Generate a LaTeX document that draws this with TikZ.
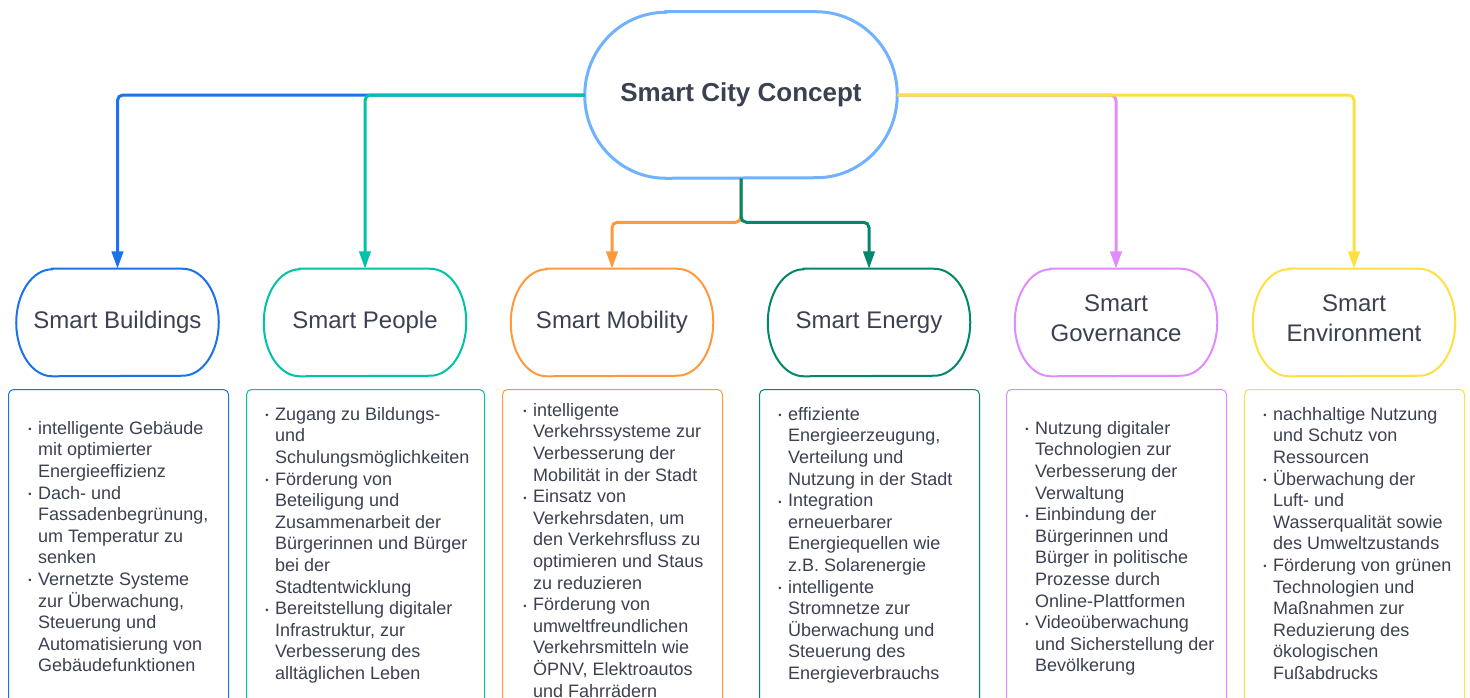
\documentclass[tikz,border=0pt]{standalone}
\usepackage{fontspec}
\setmainfont{Liberation Sans}
\usetikzlibrary{arrows.meta, positioning, calc}
\definecolor{hubline}{HTML}{70B2FF}
\definecolor{buildings}{HTML}{1A73E8}
\definecolor{people}{HTML}{00C2A8}
\definecolor{mobility}{HTML}{FF9A3C}
\definecolor{energy}{HTML}{00876C}
\definecolor{governance}{HTML}{E08CFF}
\definecolor{environment}{HTML}{FFE040}
\definecolor{dark}{HTML}{3B4150}
\newcommand{\bul}{\raisebox{1.3pt}{\fontsize{7}{7}\selectfont\textbullet}}
\tikzset{
    % Central concept node
    hub/.style={
        minimum width=234pt,
        minimum height=124.5pt,
        align=center,
        font=\fontsize{19.5}{23}\selectfont\bfseries,
        text=dark
    },
    % Branch node (outline drawn afterwards)
    branch/.style={
        minimum width=151.5pt,
        minimum height=80.25pt,
        align=center,
        font=\fontsize{18}{22.5}\selectfont,
        text=dark
    },
    % Detail box
    detail/.style={
        rectangle,
        rounded corners=3.75pt,
        draw=#1,
        line width=0.75pt,
        anchor=north west,
        minimum width=165pt,
        minimum height=240pt
    },
    % Bullet list text
    bullets/.style={
        anchor=north west,
        inner sep=0pt,
        font=\fontsize{13.5}{16.2}\selectfont,
        text=dark
    },
    % Connector
    link/.style={
        -{Triangle[length=13pt, width=8.5pt]},
        line width=2.25pt,
        rounded corners=4pt,
        draw=#1
    }
}

\begin{document}
\begin{tikzpicture}[x=0.75pt, y=-0.75pt]

    \path[use as bounding box, fill=white] (0,0) rectangle (1470,697);

    % Central node
    \node[hub] (hub) at (741,95) {Smart City Concept};

    % Branches
    \node[branch] (bldg) at (117.5,322.5) {Smart Buildings};
    \node[branch] (ppl) at (365,322.5) {Smart People};
    \node[branch] (mob) at (612,322.5) {Smart Mobility};
    \node[branch] (nrg) at (869,322.5) {Smart Energy};
    \node[branch] (gov) at (1116,322.5) {Smart\\Governance\strut};
    \node[branch] (env) at (1354,322.5) {Smart\\Environment\strut};

    % Outlines
    \draw[hubline, line width=2.25pt] ([xshift=60.75pt]hub.north west) -- ([xshift=-60.75pt]hub.north east)
        arc[start angle=90, end angle=-90, x radius=60.75pt, y radius=62.25pt]
        -- ([xshift=60.75pt]hub.south west)
        arc[start angle=270, end angle=90, x radius=60.75pt, y radius=62.25pt] -- cycle;
    \foreach \n/\c in {bldg/buildings, ppl/people, mob/mobility, nrg/energy, gov/governance, env/environment}
        \draw[\c, line width=1.5pt] ([xshift=27pt]\n.north west) -- ([xshift=-27pt]\n.north east)
            arc[start angle=90, end angle=-90, x radius=27pt, y radius=40.125pt]
            -- ([xshift=27pt]\n.south west)
            arc[start angle=270, end angle=90, x radius=27pt, y radius=40.125pt] -- cycle;

    % Connectors
    \draw[link=buildings] (hub.west) -| (bldg.north);
    \draw[link=people] (hub.west) -| (ppl.north);
    \draw[link=mobility] (hub.south) -- ++(0,44) -| (mob.north);
    \draw[link=energy] (hub.south) -- ++(0,44) -| (nrg.north);
    \draw[link=governance] (hub.east) -| (gov.north);
    \draw[link=environment] (hub.east) -| (env.north);

    % Detail boxes
    \node[detail=buildings] (bldgbox) at (8,389) {};
    \node[detail=people, minimum width=178.5pt] (pplbox) at (246,389) {};
    \node[detail=mobility] (mobbox) at (502,389) {};
    \node[detail=energy] (nrgbox) at (759,389) {};
    \node[detail=governance] (govbox) at (1006,389) {};
    \node[detail=environment] (envbox) at (1244,389) {};

    % Bullet lists
    \node[bullets] (bldgtxt) at ([shift={(20,30)}]bldgbox.north west) {%
        \begin{tabular}{@{}l@{\hspace{5pt}}l@{}}
        \bul & intelligente Gebäude\\
             & mit optimierter\\
             & Energieeffizienz\\
        \bul & Dach- und\\
             & Fassadenbegrünung,\\
             & um Temperatur zu\\
             & senken\\
        \bul & Vernetzte Systeme\\
             & zur Überwachung,\\
             & Steuerung und\\
             & Automatisierung von\\
             & Gebäudefunktionen
        \end{tabular}};
    \node[bullets] (ppltxt) at ([shift={(19,16)}]pplbox.north west) {%
        \begin{tabular}{@{}l@{\hspace{5pt}}l@{}}
        \bul & Zugang zu Bildungs-\\
             & und\\
             & Schulungsmöglichkeiten\\
        \bul & Förderung von\\
             & Beteiligung und\\
             & Zusammenarbeit der\\
             & Bürgerinnen und Bürger\\
             & bei der\\
             & Stadtentwicklung\\
        \bul & Bereitstellung digitaler\\
             & Infrastruktur, zur\\
             & Verbesserung des\\
             & alltäglichen Leben
        \end{tabular}};
    \node[bullets] (mobtxt) at ([shift={(21,12)}]mobbox.north west) {%
        \begin{tabular}{@{}l@{\hspace{5pt}}l@{}}
        \bul & intelligente\\
             & Verkehrssysteme zur\\
             & Verbesserung der\\
             & Mobilität in der Stadt\\
        \bul & Einsatz von\\
             & Verkehrsdaten, um\\
             & den Verkehrsfluss zu\\
             & optimieren und Staus\\
             & zu reduzieren\\
        \bul & Förderung von\\
             & umweltfreundlichen\\
             & Verkehrsmitteln wie\\
             & ÖPNV, Elektroautos\\
             & und Fahrrädern
        \end{tabular}};
    \node[bullets] (nrgtxt) at ([shift={(19,16)}]nrgbox.north west) {%
        \begin{tabular}{@{}l@{\hspace{5pt}}l@{}}
        \bul & effiziente\\
             & Energieerzeugung,\\
             & Verteilung und\\
             & Nutzung in der Stadt\\
        \bul & Integration\\
             & erneuerbarer\\
             & Energiequellen wie\\
             & z.B. Solarenergie\\
        \bul & intelligente\\
             & Stromnetze zur\\
             & Überwachung und\\
             & Steuerung des\\
             & Energieverbrauchs
        \end{tabular}};
    \node[bullets] (govtxt) at ([shift={(19,30)}]govbox.north west) {%
        \begin{tabular}{@{}l@{\hspace{5pt}}l@{}}
        \bul & Nutzung digitaler\\
             & Technologien zur\\
             & Verbesserung der\\
             & Verwaltung\\
        \bul & Einbindung der\\
             & Bürgerinnen und\\
             & Bürger in politische\\
             & Prozesse durch\\
             & Online-Plattformen\\
        \bul & Videoüberwachung\\
             & und Sicherstellung der\\
             & Bevölkerung
        \end{tabular}};
    \node[bullets] (envtxt) at ([shift={(19,16)}]envbox.north west) {%
        \begin{tabular}{@{}l@{\hspace{5pt}}l@{}}
        \bul & nachhaltige Nutzung\\
             & und Schutz von\\
             & Ressourcen\\
        \bul & Überwachung der\\
             & Luft- und\\
             & Wasserqualität sowie\\
             & des Umweltzustands\\
        \bul & Förderung von grünen\\
             & Technologien und\\
             & Maßnahmen zur\\
             & Reduzierung des\\
             & ökologischen\\
             & Fußabdrucks
        \end{tabular}};

\end{tikzpicture}
\end{document}
